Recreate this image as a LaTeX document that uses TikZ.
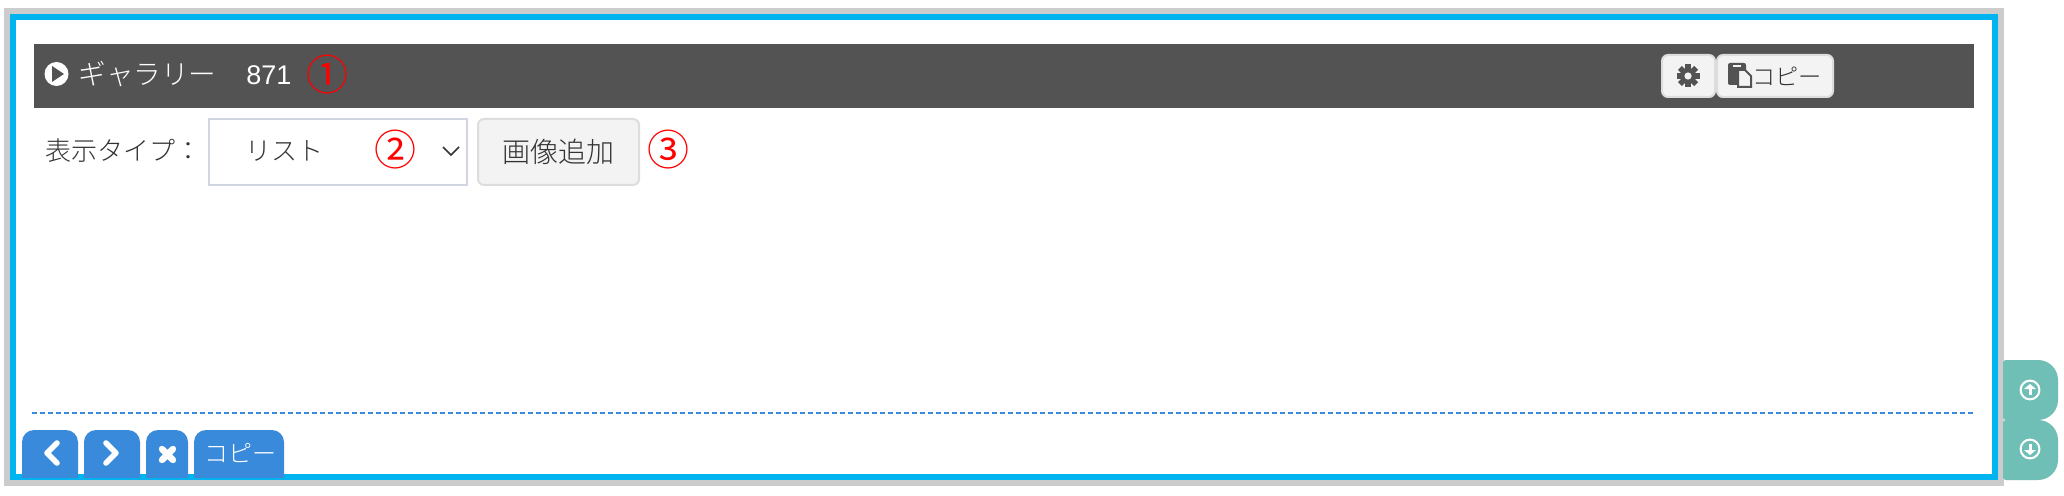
\documentclass[tikz,border=0pt]{standalone}
\usepackage{fontspec}
\setmainfont[UprightFont=* Light]{Noto Sans CJK JP}
\newfontfamily\latinfont{Liberation Sans}
\newfontfamily\markfont{Noto Sans CJK JP}
\usetikzlibrary{positioning}
\definecolor{framegray}{HTML}{CCCCCC}
\definecolor{framecyan}{HTML}{00B4F0}
\definecolor{bardark}{HTML}{535353}
\definecolor{btnlight}{HTML}{F3F3F3}
\definecolor{btnedge}{HTML}{DDDDDD}
\definecolor{selectedge}{HTML}{D2D6E2}
\definecolor{tabblue}{HTML}{3A8ADB}
\definecolor{sideteal}{HTML}{70BFB6}
\definecolor{textdark}{HTML}{333333}
\tikzset{
	barlabel/.style={font=\fontsize{13.8}{16}\selectfont, text=white, inner sep=0pt},
	formlabel/.style={font=\fontsize{13}{16}\selectfont, text=textdark, inner sep=0pt},
	marknum/.style={font=\markfont\fontsize{21}{24}\selectfont, text=red, inner sep=0pt},
	lightbtn/.style={fill=btnlight, draw=btnedge, line width=1pt, rounded corners=3pt},
	sidebtn/.style={fill=sideteal},
	iconline/.style={white, line width=2.8pt, line cap=round, line join=round},
}
\begin{document}
\begin{tikzpicture}[x=0.5pt,y=-0.5pt]
	\useasboundingbox (0,0) rectangle (2064,496);
	\fill[white] (0,0) rectangle (2064,496);
	
	% frame
	\fill[framegray] (4,8) rectangle (2004,486);
	\fill[framecyan] (10,14) rectangle (1998,480);
	\fill[white] (16,20) rectangle (1992,474);
	
	% title bar
	\fill[bardark] (34,44) rectangle (1974,108);
	\fill[white] (56.5,74) circle (6pt);
	\fill[bardark] (52,66) -- (64,74) -- (52,82) -- cycle;
	\node[barlabel, anchor=west] (title) at (78,74) {ギャラリー};
	\node[barlabel, anchor=west, font=\latinfont\fontsize{13.5}{16}\selectfont] (count) at (246,75) {871};
	\node[marknum] (markone) at (327,75) {①};
	
	\draw[lightbtn] (1662,55) rectangle (1715,97);
	\draw[lightbtn] (1717,55) rectangle (1833,97);
	\begin{scope}[shift={(1688,76)}]
		\foreach \a in {0,45,...,315}
			\fill[bardark, rotate=\a] (-2.8,-11.5) rectangle (2.8,0);
		\fill[bardark] (0,0) circle (4pt);
		\fill[btnlight] (0,0) circle (1.8pt);
	\end{scope}
	\fill[bardark, rounded corners=1pt] (1728,63) rectangle (1746,85);
	\fill[btnlight] (1733,65) rectangle (1741,67);
	\filldraw[fill=btnlight, draw=bardark, line width=1pt] (1738,70) -- (1745,70) -- (1751,76) -- (1751,87) -- (1738,87) -- cycle;
	\node[formlabel, anchor=west, font=\fontsize{11.6}{15}\selectfont] (copytop) at (1752,76) {コピー};
	
	% form row
	\node[formlabel, anchor=west] (typelabel) at (45,151) {表示タイプ：};
	\draw[selectedge, line width=1pt, fill=white] (209,119) rectangle (467,185);
	\node[formlabel, anchor=west] (listtext) at (245,151) {リスト};
	\node[marknum] (marktwo) at (395,150) {②};
	\draw[textdark, line width=0.8pt] (443,147) -- (451,155) -- (459,147);
	\draw[lightbtn] (478,119) rectangle (639,185);
	\node[formlabel, font=\fontsize{14}{16}\selectfont] (addbtn) at (558,152) {画像追加};
	\node[marknum] (markthree) at (668,150) {③};
	
	% footer
	\draw[tabblue, line width=1pt, dash pattern=on 2.5pt off 1.5pt] (32,413) -- (1976,413);
	\foreach \xa/\xb in {22/78,84/140,146/188,194/284}
		\fill[tabblue] (\xa,478) [rounded corners=6pt] -- (\xa,430) -- (\xb,430) [sharp corners] -- (\xb,478) -- cycle;
	\draw[iconline] (57,443) -- (47,453) -- (57,463);
	\draw[iconline] (106,443) -- (116,453) -- (106,463);
	\draw[iconline, line width=3.2pt] (162,449) -- (173,460) (173,449) -- (162,460);
	\node[barlabel, font=\fontsize{12}{15}\selectfont] (copybottom) at (240,453) {コピー};
	
	% side buttons
	\foreach \ya/\yb in {360/420,420/480}
		\fill[sidebtn] (2003,\ya+20) [rounded corners=1.5pt] -- (2003,\ya) [rounded corners=10pt] -- (2058,\ya) -- (2058,\yb) [rounded corners=1.5pt] -- (2003,\yb) -- cycle;
	\foreach \yc/\s in {390/-1,449/1}{
		\draw[white, line width=1pt] (2030,\yc) circle (4.7pt);
		\draw[white, line width=1.5pt, line join=round] (2030,\yc-5*\s) -- (2030,\yc+4*\s);
		\fill[white] (2024,\yc+\s) -- (2030,\yc+6*\s) -- (2036,\yc+\s) -- cycle;
	}
\end{tikzpicture}
\end{document}
